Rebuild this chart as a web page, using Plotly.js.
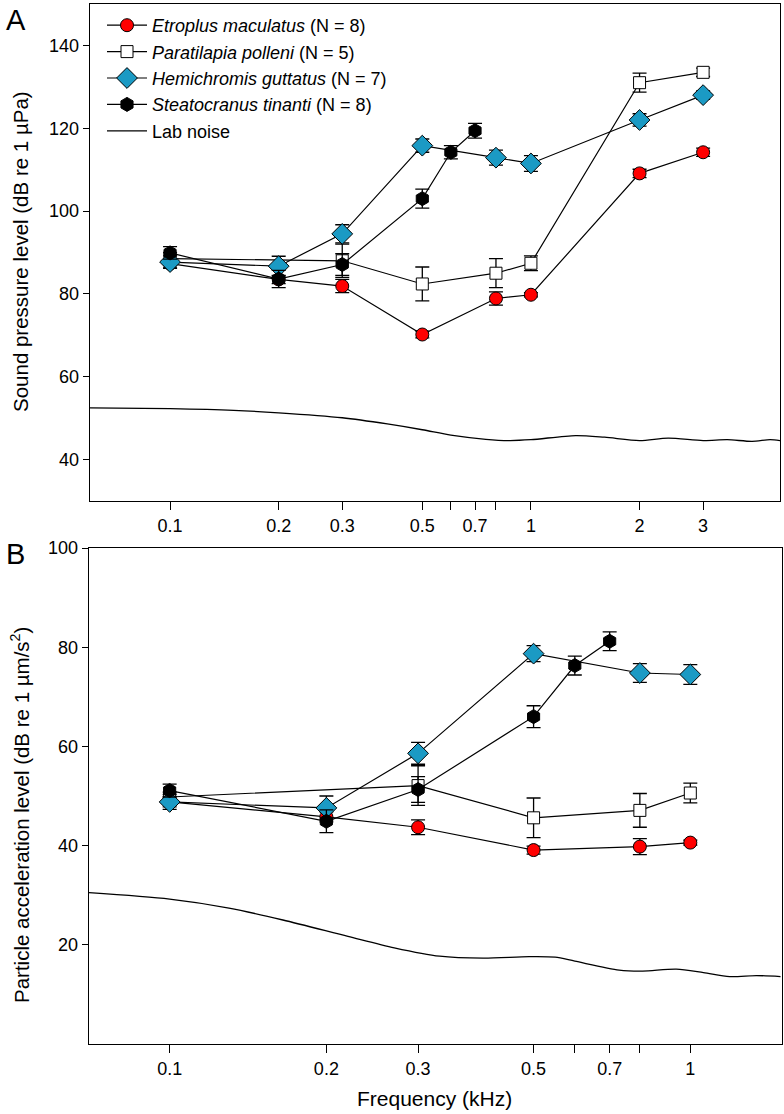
<!DOCTYPE html>
<html>
<head>
<meta charset="utf-8">
<script src="https://cdn.plot.ly/plotly-3.0.1.min.js"></script>
<style>
  body { margin: 0; background: white; }
  #chart { width: 784px; height: 1114px; }
</style>
</head>
<body>
<div id="chart"></div>
<script>
// ---- panel A: sound pressure level (dB re 1 µPa) ----
var etroFreqA = [0.1, 0.2, 0.3, 0.5, 0.8, 1, 2, 3]
var etroA     = [87.3, 83.5, 81.9, 70.2, 78.9, 79.8, 109.1, 114.2]
var etroErrA  = [1.0, 1.0, 1.6, 0.8, 1.6, 0.5, 1.0, 1.0]

var paraFreqA = [0.1, 0.3, 0.5, 0.8, 1, 2, 3]
var paraA     = [88.5, 88.0, 82.4, 85.0, 87.4, 131.0, 133.5]
var paraErrA  = [1.5, 4.0, 4.1, 3.5, 1.8, 2.3, 1.0]

var hemiFreqA = [0.1, 0.2, 0.3, 0.5, 0.8, 1, 2, 3]
var hemiA     = [87.7, 86.7, 94.5, 115.8, 112.9, 111.5, 122.0, 128.0]
var hemiErrA  = [1.5, 2.4, 2.2, 1.6, 1.8, 1.9, 1.5, 1.0]

var steaFreqA = [0.1, 0.2, 0.3, 0.5, 0.6, 0.7]
var steaA     = [89.9, 83.6, 87.1, 103.0, 114.2, 119.4]
var steaErrA  = [1.5, 2.1, 2.6, 2.3, 1.6, 1.8]

var noiseFreqA = [0.06, 0.1, 0.15, 0.2, 0.3, 0.4, 0.5, 0.6, 0.75, 0.87, 1, 1.33, 1.6, 2, 2.4, 3, 3.5, 4.1, 4.6, 4.9]
var noiseA     = [52.5, 52.3, 51.9, 51.3, 50.1, 48.6, 47.2, 45.9, 44.9, 44.6, 44.8, 45.8, 45.4, 44.6, 45.2, 44.6, 44.8, 44.4, 44.8, 44.6]

// ---- panel B: particle acceleration level (dB re 1 µm/s²) ----
var etroFreqB = [0.1, 0.2, 0.3, 0.5, 0.8, 1]
var etroB     = [48.8, 45.8, 43.7, 39.1, 39.8, 40.6]
var etroErrB  = [1.0, 1.0, 1.5, 0.8, 1.6, 0.5]

var paraFreqB = [0.1, 0.3, 0.5, 0.8, 1]
var paraB     = [49.8, 52.1, 45.6, 47.1, 50.6]
var paraErrB  = [1.0, 4.0, 4.0, 3.4, 2.0]

var hemiFreqB = [0.1, 0.2, 0.3, 0.5, 0.8, 1]
var hemiB     = [48.8, 47.6, 58.6, 78.7, 74.8, 74.5]
var hemiErrB  = [1.5, 2.4, 2.2, 1.6, 1.9, 2.0]

var steaFreqB = [0.1, 0.2, 0.3, 0.5, 0.6, 0.7]
var steaB     = [51.1, 44.9, 51.3, 66.0, 76.3, 81.2]
var steaErrB  = [1.3, 2.3, 2.6, 2.2, 1.9, 1.9]

var noiseFreqB = [0.07, 0.1, 0.13, 0.165, 0.22, 0.27, 0.33, 0.4, 0.49, 0.55, 0.6, 0.73, 0.81, 0.94, 1.06, 1.19, 1.34, 1.49]
var noiseB     = [30.5, 29.2, 27.4, 25.0, 21.7, 19.4, 17.7, 17.3, 17.6, 17.5, 16.7, 14.9, 14.7, 15.1, 14.4, 13.6, 13.8, 13.6]

// labelled ticks, plus the unlabelled ones at 0.6 and 0.8 kHz
var tickValsA = [0.1, 0.2, 0.3, 0.5, 0.7, 1, 2, 3]
var tickTextA = ['0.1', '0.2', '0.3', '0.5', '0.7', '1', '2', '3']
var tickValsB = [0.1, 0.2, 0.3, 0.5, 0.7, 1]
var tickTextB = ['0.1', '0.2', '0.3', '0.5', '0.7', '1']
var bareTicks = [0.6, 0.8]

var names = [
    '<i>Etroplus maculatus</i> (N = 8)',
    '<i>Paratilapia polleni</i> (N = 5)',
    '<i>Hemichromis guttatus</i> (N = 7)',
    '<i>Steatocranus tinanti</i> (N = 8)',
    'Lab noise'
]

var styles = [
    { symbol: 'circle', size: 13, color: '#ff0000' },
    { symbol: 'square', size: 12, color: '#ffffff' },
    { symbol: 'diamond', size: 16, color: '#1b9ac4' },
    { symbol: 'hexagon', size: 14, color: '#000000' }
]

function species(x, y, err, i, xa, ya, legend) {
    return {
        x: x, y: y,
        xaxis: xa, yaxis: ya,
        name: names[i],
        showlegend: legend,
        mode: 'lines+markers',
        line: { color: 'black', width: 1.2 },
        marker: {
            symbol: styles[i].symbol,
            size: styles[i].size,
            color: styles[i].color,
            line: { color: 'black', width: 1 }
        },
        error_y: { type: 'data', array: err, color: 'black', thickness: 1.3, width: 7 }
    }
}

function noise(x, y, xa, ya, legend) {
    return {
        x: x, y: y,
        xaxis: xa, yaxis: ya,
        name: names[4],
        showlegend: legend,
        mode: 'lines',
        line: { color: 'black', width: 1.3, shape: 'spline', smoothing: 0.8 }
    }
}

var traces = [
    species(etroFreqA, etroA, etroErrA, 0, 'x', 'y', true),
    species(paraFreqA, paraA, paraErrA, 1, 'x', 'y', true),
    species(hemiFreqA, hemiA, hemiErrA, 2, 'x', 'y', true),
    species(steaFreqA, steaA, steaErrA, 3, 'x', 'y', true),
    noise(noiseFreqA, noiseA, 'x', 'y', true),
    species(etroFreqB, etroB, etroErrB, 0, 'x2', 'y2', false),
    species(paraFreqB, paraB, paraErrB, 1, 'x2', 'y2', false),
    species(hemiFreqB, hemiB, hemiErrB, 2, 'x2', 'y2', false),
    species(steaFreqB, steaB, steaErrB, 3, 'x2', 'y2', false),
    noise(noiseFreqB, noiseB, 'x2', 'y2', false)
]

var W = 784, H = 1114
var font = { family: 'Liberation Sans, Arial, sans-serif', size: 18, color: 'black' }

function xaxis(range, vals, text, dom, anchor) {
    return {
        type: 'log',
        range: [Math.log10(range[0]), Math.log10(range[1])],
        domain: dom,
        anchor: anchor,
        tickmode: 'array',
        tickvals: vals,
        ticktext: text,
        ticks: 'outside', ticklen: 8, tickwidth: 1, tickcolor: 'black',
        minor: { tickmode: 'array', tickvals: bareTicks, ticks: 'outside',
                 ticklen: 8, tickwidth: 1, tickcolor: 'black', showgrid: false },
        showline: true, mirror: true, linecolor: 'black', linewidth: 1.3,
        showgrid: false, zeroline: false,
        tickfont: { size: 18 }
    }
}

function yaxis(range, vals, dom, anchor) {
    return {
        range: range,
        domain: dom,
        anchor: anchor,
        tickvals: vals,
        ticks: 'outside', ticklen: 6, tickwidth: 1, tickcolor: 'black',
        showline: true, mirror: true, linecolor: 'black', linewidth: 1.3,
        showgrid: false, zeroline: false,
        tickfont: { size: 18 }
    }
}

var layout = {
    width: W, height: H,
    margin: { l: 0, r: 0, t: 0, b: 0 },
    font: font,
    paper_bgcolor: 'white',
    plot_bgcolor: 'white',
    showlegend: true,
    legend: {
        x: 102 / W, y: 1 - 7 / H,
        xanchor: 'left', yanchor: 'top',
        bgcolor: 'rgba(0,0,0,0)',
        font: { size: 18 },
        tracegroupgap: 0,
        itemwidth: 40
    },
    xaxis: xaxis([0.06, 4.9], tickValsA, tickTextA, [90 / W, 780 / W], 'y'),
    yaxis: yaxis([30, 150], [40, 60, 80, 100, 120, 140], [1 - 501 / H, 1 - 4 / H], 'x'),
    xaxis2: xaxis([0.07, 1.5], tickValsB, tickTextB, [89 / W, 782 / W], 'y2'),
    yaxis2: yaxis([0, 100], [20, 40, 60, 80, 100], [1 - 1044 / H, 1 - 548 / H], 'x2'),
    annotations: [
        { text: 'A', x: 4 / W, y: 1 - 2 / H, xref: 'paper', yref: 'paper',
          xanchor: 'left', yanchor: 'top', showarrow: false, font: { size: 29 } },
        { text: 'B', x: 4 / W, y: 1 - 536 / H, xref: 'paper', yref: 'paper',
          xanchor: 'left', yanchor: 'top', showarrow: false, font: { size: 29 } },
        { text: 'Sound pressure level (dB re 1 µPa)', x: 20 / W, y: 1 - 252 / H,
          xref: 'paper', yref: 'paper', xanchor: 'center', yanchor: 'middle',
          textangle: -90, showarrow: false, font: { size: 20.5 } },
        { text: 'Particle acceleration level (dB re 1 µm/s<sup>2</sup>)', x: 20 / W, y: 1 - 815 / H,
          xref: 'paper', yref: 'paper', xanchor: 'center', yanchor: 'middle',
          textangle: -90, showarrow: false, font: { size: 20.5 } },
        { text: 'Frequency (kHz)', x: 434 / W, y: 1 - 1098 / H,
          xref: 'paper', yref: 'paper', xanchor: 'center', yanchor: 'middle',
          showarrow: false, font: { size: 21 } }
    ]
}

Plotly.newPlot('chart', traces, layout, { displayModeBar: false, staticPlot: true })
</script>
</body>
</html>
